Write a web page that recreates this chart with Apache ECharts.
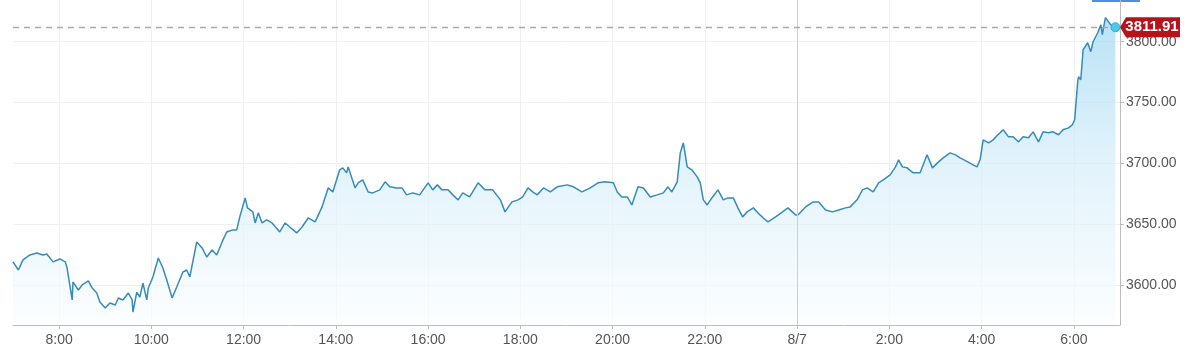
<!DOCTYPE html>
<html>
<head>
<meta charset="utf-8">
<script src="https://cdn.jsdelivr.net/npm/echarts@6/dist/echarts.min.js"></script>
<style>
html,body{margin:0;padding:0;background:#fff;}
#chart{width:1200px;height:354px;}
</style>
</head>
<body>
<div id="chart"></div>
<script>
// Clock times (day 1 from 07:00, rolling past midnight into 8/7)
var times = ["07:00","07:07","07:13","07:22","07:31","07:39","07:44","07:52","08:01","08:08","08:10","08:17","08:18","08:25","08:30","08:38","08:43","08:49","08:53","09:00","09:06","09:13","09:17","09:23","09:30","09:35","09:36","09:41","09:45","09:49","09:54","09:56","10:02","10:09","10:15","10:20","10:27","10:33","10:41","10:46","10:50","10:59","11:06","11:12","11:19","11:25","11:32","11:38","11:46","11:51","11:55","12:02","12:05","12:12","12:15","12:19","12:24","12:30","12:37","12:47","12:54","13:00","13:09","13:16","13:24","13:33","13:42","13:50","13:56","14:05","14:09","14:14","14:16","14:25","14:29","14:35","14:42","14:48","14:57","15:04","15:10","15:19","15:26","15:32","15:40","15:49","16:00","16:06","16:12","16:18","16:26","16:32","16:39","16:45","16:54","17:05","17:14","17:24","17:34","17:40","17:49","17:57","18:03","18:10","18:16","18:22","18:30","18:39","18:48","19:01","19:09","19:20","19:31","19:41","19:50","20:01","20:06","20:12","20:19","20:25","20:33","20:40","20:49","20:58","21:06","21:12","21:17","21:24","21:28","21:32","21:37","21:43","21:50","21:54","21:58","22:03","22:10","22:17","22:24","22:30","22:37","22:43","22:49","22:55","23:03","23:09","23:16","23:22","23:32","23:41","23:48","23:58","00:01","00:11","00:21","00:28","00:37","00:46","00:54","01:03","01:09","01:18","01:25","01:31","01:39","01:46","01:52","02:01","02:08","02:12","02:17","02:23","02:31","02:40","02:49","02:56","03:04","03:10","03:19","03:26","03:32","03:42","03:49","03:54","03:58","04:02","04:09","04:15","04:21","04:24","04:28","04:35","04:41","04:48","04:54","05:01","05:07","05:14","05:20","05:27","05:33","05:40","05:46","05:53","05:58","06:01","06:05","06:06","06:09","06:12","06:18","06:22","06:25","06:31","06:35","06:37","06:41","06:48","06:54"];
var prices = [3619.0,3612.3,3620.6,3624.7,3626.3,3624.7,3625.5,3619.0,3621.4,3619.0,3615.0,3587.7,3602.5,3595.9,3600.0,3603.3,3597.5,3593.4,3586.0,3581.0,3585.2,3583.5,3589.3,3587.7,3593.4,3587.7,3577.8,3594.2,3590.1,3601.6,3587.7,3597.5,3606.6,3622.2,3614.0,3604.1,3589.3,3598.4,3610.7,3612.3,3606.6,3635.4,3630.5,3623.0,3628.8,3624.7,3635.4,3643.6,3645.3,3645.3,3656.0,3671.6,3663.4,3660.1,3651.0,3659.3,3651.0,3653.5,3651.0,3643.6,3651.0,3647.7,3642.8,3647.7,3655.1,3651.9,3664.2,3679.8,3676.5,3694.7,3696.3,3692.2,3697.1,3679.8,3684.0,3686.4,3676.5,3675.7,3678.2,3684.8,3680.7,3679.8,3679.8,3674.1,3675.7,3674.1,3684.0,3678.2,3682.3,3678.2,3678.2,3674.1,3670.0,3675.7,3672.4,3684.0,3678.2,3678.2,3670.0,3660.1,3668.3,3670.0,3672.4,3679.8,3676.5,3674.1,3679.8,3676.5,3680.7,3682.3,3680.7,3676.5,3679.8,3684.0,3684.8,3684.0,3676.5,3672.4,3672.4,3665.8,3680.7,3679.8,3672.4,3674.1,3675.7,3680.7,3676.5,3684.8,3708.6,3716.9,3697.1,3694.7,3688.9,3684.0,3670.0,3665.8,3672.4,3678.2,3670.0,3671.6,3671.6,3663.4,3656.0,3660.1,3663.4,3659.3,3655.1,3651.9,3656.0,3660.1,3663.4,3657.6,3657.6,3664.2,3668.3,3668.3,3661.7,3660.1,3661.7,3663.4,3664.2,3670.0,3678.2,3679.8,3676.5,3684.0,3686.4,3690.5,3697.1,3702.9,3697.1,3696.3,3692.2,3692.2,3707.0,3696.3,3701.2,3704.5,3708.6,3707.0,3704.5,3701.2,3698.8,3697.1,3702.9,3719.3,3716.9,3719.3,3723.5,3725.1,3727.6,3721.8,3721.8,3717.7,3721.8,3721.0,3725.9,3717.7,3725.9,3725.1,3725.9,3723.5,3727.6,3729.2,3731.7,3735.8,3767.1,3771.2,3768.7,3793.4,3799.2,3791.8,3800.0,3807.4,3814.0,3805.8,3819.8,3814.0,3811.91];
var xTickHours = [8,10,12,14,16,18,20,22,24,26,28,30];
var yTickValues = [3600,3650,3700,3750,3800];
var lastPrice = 3811.91;
var dateLabel = "8/7";

function toHour(t){
  var p = t.split(":");
  var h = parseInt(p[0],10) + parseInt(p[1],10)/60;
  if (h < 7) h += 24;
  return h;
}
var seriesData = times.map(function(t,i){ return [toHour(t), prices[i]]; });
var lastPoint = seriesData[seriesData.length-1];

var chart = echarts.init(document.getElementById('chart'), null, {renderer:'canvas'});
var labelFont = 'Liberation Sans, Arial, sans-serif';
chart.setOption({
  animation:false,
  backgroundColor:'#ffffff',
  grid:{left:13, right:80, top:0, bottom:29, containLabel:false},
  xAxis:{
    type:'value', min:7, max:31,
    axisLine:{show:true, lineStyle:{color:'#bcbcbc', width:1}},
    axisTick:{show:true, inside:false, length:4, lineStyle:{color:'#bcbcbc'}, customValues:xTickHours},
    axisLabel:{customValues:xTickHours, color:'#555', fontSize:14, fontFamily:labelFont, margin:8,
      formatter:function(v){ if (v===24) return dateLabel; return (v%24)+':00'; }},
    splitLine:{show:true, lineStyle:{color:'#f0f0f0', width:1}}
  },
  yAxis:{
    type:'value', position:'right', min:3567.1, max:3834.3, scale:true,
    axisLine:{show:true, lineStyle:{color:'#bcbcbc', width:1}},
    axisTick:{show:true, length:4, lineStyle:{color:'#bcbcbc'}, customValues:yTickValues},
    axisLabel:{customValues:yTickValues, color:'#555', fontSize:14, fontFamily:labelFont, margin:6,
      formatter:function(v){ return v.toFixed(2); }},
    splitLine:{show:true, lineStyle:{color:'#f0f0f0', width:1}}
  },
  graphic:[{type:'rect', left:1092, top:0, shape:{width:48, height:2}, style:{fill:'#4a8fe0'}}],
  series:[{
    type:'line',
    data:seriesData,
    showSymbol:false,
    symbol:'none',
    lineStyle:{color:'#358cba', width:1.5},
    areaStyle:{color:{type:'linear', x:0, y:20, x2:0, y2:325, global:true,
      colorStops:[{offset:0,color:'#9dd7f3'},{offset:0.45,color:'#d4edf9'},{offset:1,color:'#fbfdff'}]}},
    markLine:{
      silent:true, symbol:['none','none'], animation:false,
      label:{show:false},
      data:[
        {xAxis:24, lineStyle:{color:'#cfcfcf', type:'solid', width:1}},
        {yAxis:lastPrice, lineStyle:{color:'#bf9eab', type:[6,5], width:1.3}}
      ]
    },
    markPoint:{
      silent:true, animation:false,
      data:[
        {coord:[31, lastPrice], symbol:'path://M0,10 L6,0 L60,0 L60,20 L6,20 Z', symbolSize:[60,20], symbolOffset:[30,0],
          itemStyle:{color:'#b5121b'},
          label:{show:true, formatter:lastPrice.toFixed(2), color:'#fff', fontSize:15, fontWeight:'bold', fontFamily:labelFont, offset:[2,0]}},
        {coord:lastPoint, symbol:'circle', symbolSize:9,
          itemStyle:{color:'#4cc9e5', borderColor:'#36acd0', borderWidth:1}, label:{show:false}}
      ]
    }
  }]
});
</script>
</body>
</html>
